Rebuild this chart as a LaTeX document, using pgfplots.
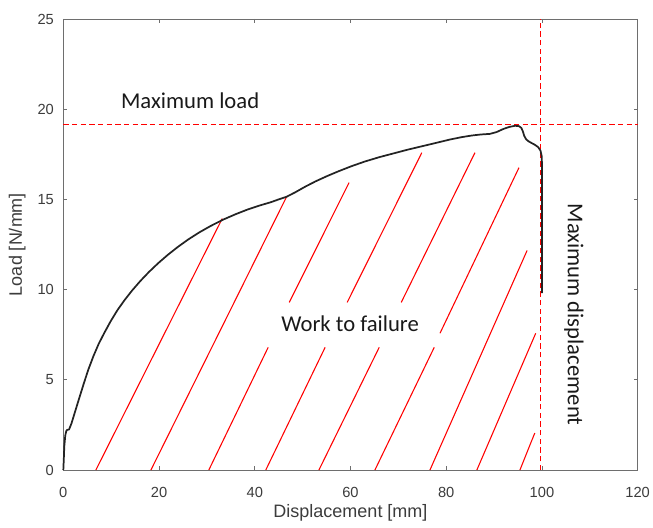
\documentclass[border=0pt]{standalone}
\usepackage{fontspec}
\setmainfont{Liberation Sans}
\newfontfamily\calibri{Carlito}
\usepackage{pgfplots}
\pgfplotsset{compat=1.18}
\definecolor{axgray}{RGB}{110,110,110}
\definecolor{txtgray}{RGB}{60,60,60}
\definecolor{curvecol}{RGB}{35,35,35}
\definecolor{notecol}{RGB}{25,25,25}

\begin{document}
\begin{tikzpicture}
\begin{axis}[
  name=ax,
  scale only axis,
  width=430.8pt, height=338.3pt,
  xmin=0, xmax=120, ymin=0, ymax=25,
  xtick={0,20,...,120}, ytick={0,5,...,25},
  tick align=inside,
  major tick length=3pt,
  axis line style={axgray, line width=0.6pt},
  every tick/.style={axgray, line width=0.6pt},
  /pgf/number format/assume math mode=true,
  tick label style={font=\fontsize{11}{13}\selectfont, text=txtgray},
  xticklabel style={anchor=center, yshift=-16.9pt},
  yticklabel style={anchor=east, inner sep=0pt, xshift=-6.9pt},
  xlabel={Displacement [mm]},
  ylabel={Load [N/mm]},
  every axis x label/.style={at={(axis description cs:0.5,-0.0951)}, anchor=center,
    font=\fontsize{13.5}{16}\selectfont, text=txtgray},
  every axis y label/.style={at={(axis description cs:-0.0801,0.5)}, anchor=center, rotate=90,
    font=\fontsize{13.5}{16}\selectfont, text=txtgray},
  clip=false,
]

% hatching of the area under the curve
\pgfplotsset{hatch/.style={red, line width=0.8pt}}
\addplot[hatch] coordinates {(6.8,0) (33.2,13.94)};
\addplot[hatch] coordinates {(18.3,0) (46.6,15.12)};
\addplot[hatch] coordinates {(30.4,0) (42.8,6.8)};
\addplot[hatch] coordinates {(47.2,9.29) (59.7,15.93)};
\addplot[hatch] coordinates {(42.3,0) (54.7,6.8)};
\addplot[hatch] coordinates {(59.3,9.29) (74.9,17.59)};
\addplot[hatch] coordinates {(53.4,0) (66.0,6.8)};
\addplot[hatch] coordinates {(70.6,9.29) (86.0,17.59)};
\addplot[hatch] coordinates {(65.1,0) (77.5,6.8)};
\addplot[hatch] coordinates {(78.7,7.58) (95.2,16.76)};
\addplot[hatch] coordinates {(76.6,0) (96.9,12.17)};
\addplot[hatch] coordinates {(86.4,0) (98.7,7.58)};
\addplot[hatch] coordinates {(95.4,0) (98.5,2.05)};

% maximum load and maximum displacement
\addplot[red, line width=0.8pt, dash pattern=on 4pt off 2.5pt] coordinates {(0,19.15) (120,19.15)};
\addplot[red, line width=0.8pt, dash pattern=on 4pt off 2.5pt] coordinates {(99.7,0) (99.7,25)};

% load-displacement curve
\addplot[curvecol, line width=1.3pt, line join=round] coordinates {
  (0,0) (0.1,0.6) (0.2,1.3) (0.4,1.9) (0.6,2.15) (0.8,2.22) (1.2,2.25)
  (1.7,2.58) (2.3,3.1) (2.9,3.62) (3.6,4.22) (4.4,4.9) (5.3,5.62)
  (6.3,6.32) (7.4,7.0) (8.6,7.62) (9.9,8.25) (11.3,8.86) (12.8,9.42)
  (14.4,9.96) (16.1,10.48) (17.9,10.98) (19.8,11.46) (21.8,11.92)
  (23.9,12.36) (26.1,12.78) (28.4,13.17) (30.8,13.53) (33.4,13.88)
  (36,14.18) (38.6,14.45) (41,14.66) (43.3,14.84) (45,15.0) (46.6,15.14)
  (48.5,15.4) (50.5,15.7) (52.7,16.0) (55,16.28) (57.5,16.56) (60.2,16.84)
  (63,17.1) (66,17.34) (69,17.55) (72,17.76) (75,17.95)
  (78,18.14) (80.8,18.32) (83.2,18.45) (85.3,18.54) (87.3,18.6)
  (89.1,18.63) (90.5,18.73) (91.9,18.9) (93.2,19.02) (94.4,19.08)
  (95.2,19.06) (95.7,18.96) (96.0,18.78) (96.3,18.52) (96.7,18.33)
  (97.2,18.22) (97.8,18.13) (98.5,18.03) (99.2,17.9) (99.7,17.7)
  (99.95,17.4) (100,17.0) (100,9.8)
};

\node[font=\calibri\fontsize{17}{20}\selectfont, text=notecol, anchor=base west, inner sep=0pt]
  at (axis cs:12.0,20.06) {Maximum load};
\node[font=\calibri\fontsize{17}{20}\selectfont, text=notecol, anchor=base west, inner sep=0pt]
  at (axis cs:45.5,7.70) {Work to failure};
\node[font=\calibri\fontsize{17}{20}\selectfont, text=notecol, rotate=-90, anchor=base, inner sep=0pt]
  at (axis cs:105.4,8.62) {Maximum displacement};
\end{axis}
\pgfresetboundingbox
\path ([shift={(-47.5pt,-42.75pt)}]ax.south west) rectangle ([shift={(11.5pt,14.25pt)}]ax.north east);
\end{tikzpicture}
\end{document}
